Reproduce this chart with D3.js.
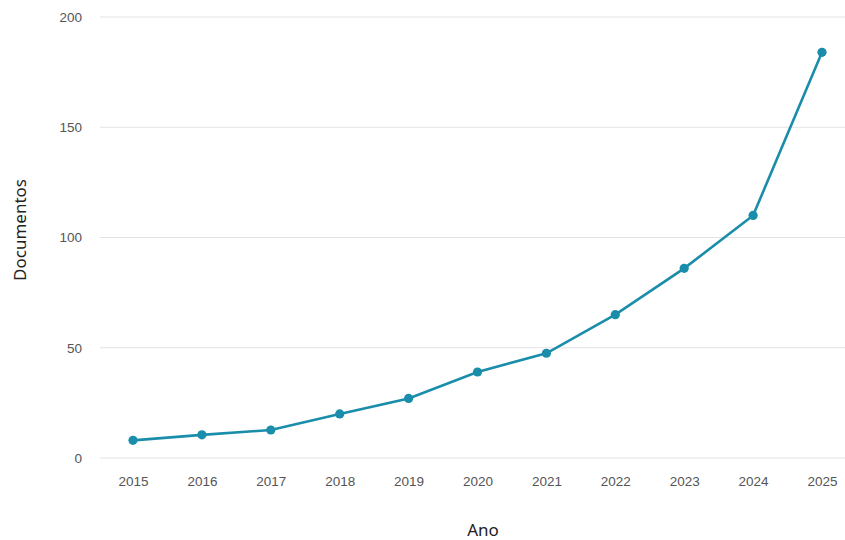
<!DOCTYPE html>
<html>
<head>
<meta charset="utf-8">
<script src="https://cdn.jsdelivr.net/npm/d3@7"></script>
<style>
  body { margin: 0; background: #fff; }
  svg { display: block; font-family: "Noto Sans", "Open Sans", sans-serif; }
  .grid line { stroke: #e3e3e3; stroke-width: 1.2; }
  .tick text { fill: #555; font-size: 13.5px; }
</style>
</head>
<body>
<svg width="845" height="540"></svg>
<script>
let years = [2015, 2016, 2017, 2018, 2019, 2020, 2021, 2022, 2023, 2024, 2025];
let docs = [8, 10.5, 12.7, 20, 27, 39, 47.5, 65, 86, 110, 184];
let yTicks = [0, 50, 100, 150, 200];

let svg = d3.select("svg");

let x = d3.scaleLinear().domain([2015, 2025]).range([133, 822]);
let y = d3.scaleLinear().domain([0, 200]).range([458, 17]);

// horizontal grid
svg.append("g")
  .attr("class", "grid")
  .selectAll("line")
  .data(yTicks)
  .enter()
  .append("line")
  .attr("x1", 100)
  .attr("x2", 845)
  .attr("y1", d => y(d))
  .attr("y2", d => y(d));

let yAxis = svg.append("g")
  .attr("transform", "translate(88,0)")
  .call(d3.axisLeft(y).tickValues(yTicks).tickSize(0).tickPadding(6));
yAxis.select(".domain").remove();

let xAxis = svg.append("g")
  .attr("transform", "translate(0,471)")
  .call(d3.axisBottom(x).tickValues(years).tickFormat(d3.format("d")).tickSize(0).tickPadding(5));
xAxis.select(".domain").remove();

let line = d3.line()
  .x((d, i) => x(years[i]))
  .y(d => y(d));

svg.append("path")
  .datum(docs)
  .attr("d", line)
  .attr("fill", "none")
  .attr("stroke", "#1a8dab")
  .attr("stroke-width", 2.6);

svg.selectAll(".pt")
  .data(docs)
  .enter()
  .append("circle")
  .attr("class", "pt")
  .attr("cx", (d, i) => x(years[i]))
  .attr("cy", d => y(d))
  .attr("r", 4.6)
  .attr("fill", "#1a8dab");

svg.append("text")
  .attr("x", 483)
  .attr("y", 536)
  .attr("text-anchor", "middle")
  .attr("font-size", 17)
  .attr("fill", "#222")
  .text("Ano");

svg.append("text")
  .attr("transform", "translate(26,230) rotate(-90)")
  .attr("text-anchor", "middle")
  .attr("font-size", 17)
  .attr("fill", "#222")
  .text("Documentos");
</script>
</body>
</html>
